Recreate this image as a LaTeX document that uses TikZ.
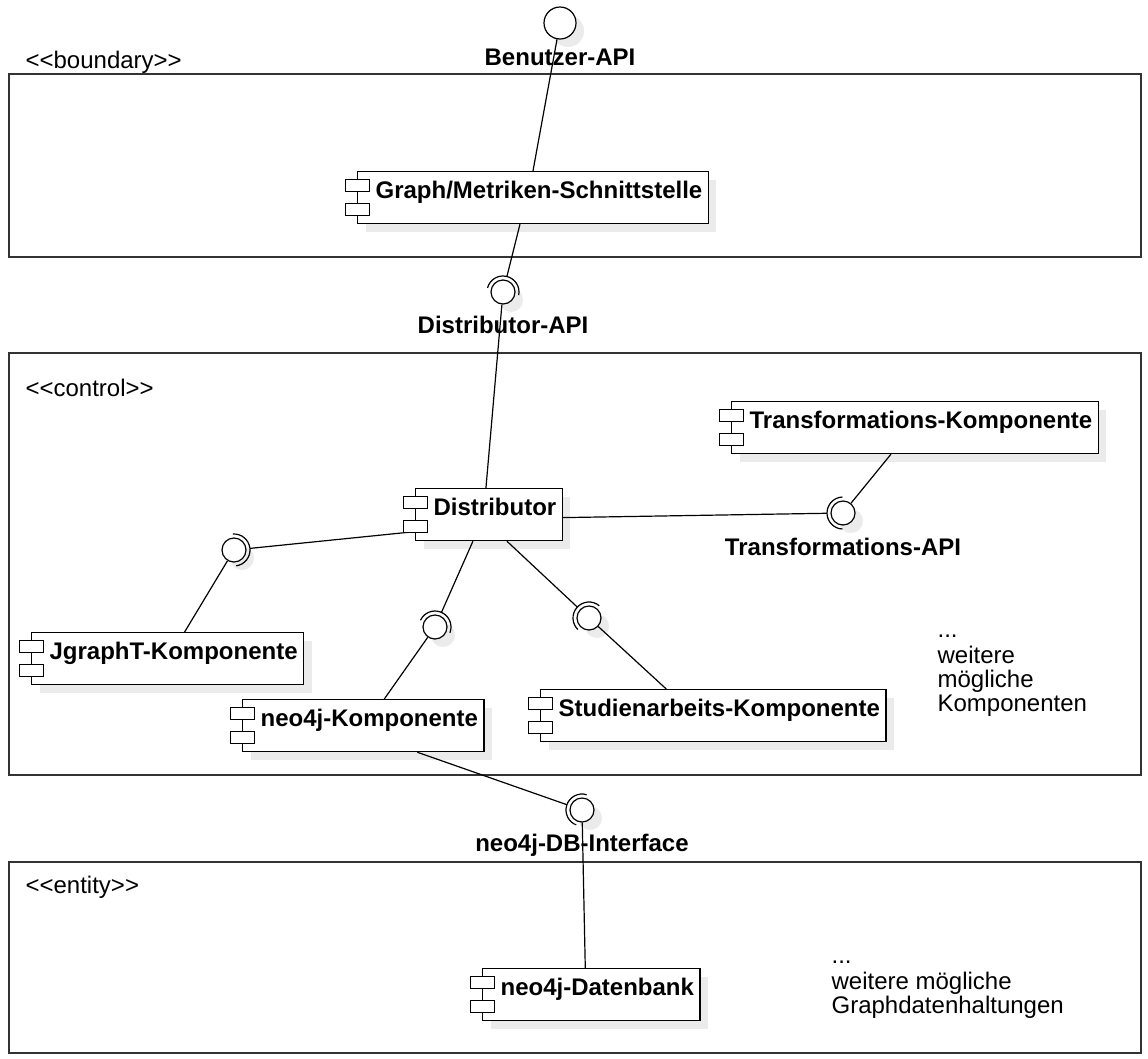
\documentclass[tikz,border=0pt]{standalone}
\usepackage{fontspec}
\setmainfont{Liberation Sans}
\usetikzlibrary{shadows}
\newcommand{\socket}[2]{\draw ([shift={(#2-88:16pt)}]#1.center) arc[start angle=#2-88, end angle=#2+88, radius=16pt];}
\begin{document}
\begin{tikzpicture}[x=1pt, y=-1pt, line width=1.2pt,
  every node/.style={font=\fontsize{24}{24}\selectfont, inner sep=0pt},
  comp/.style={draw, fill=white, anchor=north west, font=\fontsize{24}{24}\selectfont\bfseries, inner xsep=6pt, inner ysep=7pt, text height=20pt, text depth=18pt, execute at begin node=\hspace*{12pt}, drop shadow={fill=black!8, opacity=1, shadow xshift=8pt, shadow yshift=-8pt}},
  iface/.style={circle, draw, fill=white, minimum size=24pt, drop shadow={fill=black!8, opacity=1, shadow xshift=8pt, shadow yshift=-8pt}},
  ifname/.style={anchor=base, font=\fontsize{24}{24}\selectfont\bfseries},
  stereo/.style={anchor=base west},
  icon/.style={draw, fill=white, line width=1pt},
  layer/.style={draw=black!80}]
\useasboundingbox (0,0) rectangle (1148,1058);
% layers
\draw[layer] (9,74) rectangle (1141,257);
\draw[layer] (9,353) rectangle (1141,775);
\draw[layer] (9,862) rectangle (1141,1053);
\node[stereo] (bnd) at (25,68) {<{}<boundary>{}>};
\node[stereo] (ctl) at (25,396) {<{}<control>{}>};
\node[stereo] (ent) at (25,893) {<{}<entity>{}>};
% components
\node[comp] (graphmet) at (357,171) {Graph/Metriken-Schnittstelle};
\node[comp] (distrib) at (415,488) {Distributor};
\node[comp] (trafo) at (731,401) {Transformations-Komponente};
\node[comp] (jgrapht) at (31,632) {JgraphT-Komponente};
\node[comp] (neokomp) at (242,699) {neo4j-Komponente};
\node[comp] (stud) at (540,689) {Studienarbeits-Komponente};
\node[comp] (neodb) at (482,968) {neo4j-Datenbank};
% interfaces
\node[iface, minimum size=32pt] (userapi) at (560,23) {};
\node[iface] (distapi) at (503,292) {};
\node[iface] (trafoapi) at (843,513) {};
\node[iface] (jgraphapi) at (234,550) {};
\node[iface] (neoapi) at (435,627) {};
\node[iface] (studapi) at (589,618) {};
\node[iface] (dbapi) at (582,810) {};
\node[ifname] (userlbl) at (560,65) {Benutzer-API};
\node[ifname] (distlbl) at (503,333) {Distributor-API};
\node[ifname] (trafolbl) at (843,555) {Transformations-API};
\node[ifname] (dblbl) at (582,851) {neo4j-DB-Interface};
\node[anchor=north west, align=left] (morecomp) at (937,620) {\strut...\\weitere\\mögliche\\Komponenten};
\node[anchor=north west, align=left] (moredb) at (831,946) {\strut...\\weitere mögliche\\Graphdatenhaltungen};
% connectors
\draw (userapi) -- (graphmet.north);
\draw[shorten >=3.5pt] ([xshift=-13pt]graphmet.south) -- (distapi);
\draw (distapi) -- ([xshift=-3pt]distrib.north);
\draw[shorten >=3.5pt] ([yshift=-3pt]distrib.east) -- (trafoapi);
\draw ([xshift=-24pt]trafo.south) -- (trafoapi);
\draw[shorten >=3.5pt] ([yshift=-17pt]distrib.west) -- (jgraphapi);
\draw (jgraphapi) -- ([xshift=17pt]jgrapht.north);
\draw[shorten >=3.5pt] ([xshift=-16pt]distrib.south) -- (neoapi);
\draw (neoapi) -- ([xshift=21pt]neokomp.north);
\draw[shorten >=3.5pt] ([xshift=18pt]distrib.south) -- (studapi);
\draw (studapi) -- ([xshift=-47pt]stud.north);
\draw[shorten >=3.5pt] ([xshift=54pt]neokomp.south) -- (dbapi);
\draw (dbapi) -- ([xshift=-6pt]neodb.north);
% sockets
\socket{distapi}{77}
\socket{trafoapi}{180}
\socket{jgraphapi}{6}
\socket{neoapi}{67}
\socket{studapi}{138}
\socket{dbapi}{161}
% component icons
\foreach \c in {graphmet,distrib,trafo,jgrapht,neokomp,stud,neodb}{
  \draw[icon] ([shift={(-12pt,-8pt)}]\c.north west) rectangle ++(24pt,-12pt);
  \draw[icon] ([shift={(-12pt,-32pt)}]\c.north west) rectangle ++(24pt,-12pt);
}
\end{tikzpicture}
\end{document}
